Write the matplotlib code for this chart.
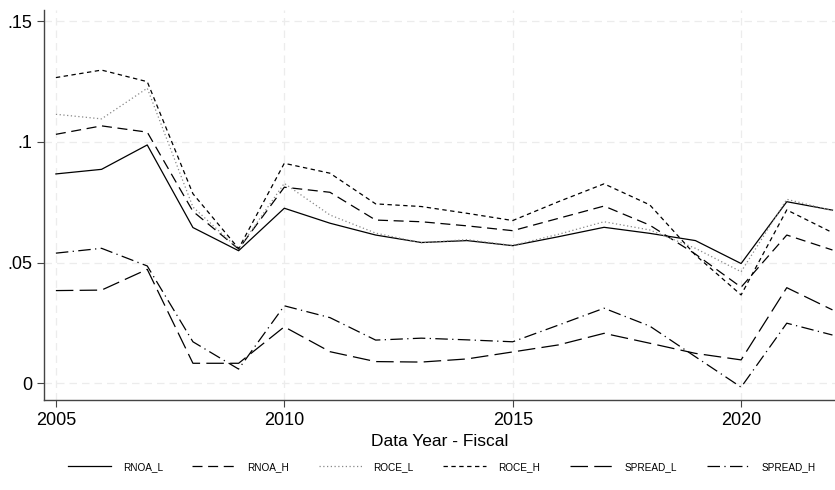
import numpy as np
import matplotlib
matplotlib.use("Agg")
import matplotlib.pyplot as plt

plt.rcParams['font.family'] = ['Liberation Sans', 'DejaVu Sans']

# fiscal years and yearly averages of each measure
years = list(range(2005, 2023))

rnoa_l = [0.0867, 0.0886, 0.0987, 0.0645, 0.0549, 0.0725, 0.0663, 0.0614, 0.0583,
          0.0591, 0.0570, 0.0607, 0.0646, 0.0621, 0.0591, 0.0496, 0.0752, 0.0717]
rnoa_h = [0.1031, 0.1066, 0.1040, 0.0712, 0.0556, 0.0812, 0.0791, 0.0676, 0.0669,
          0.0652, 0.0632, 0.0683, 0.0734, 0.0655, 0.0535, 0.0398, 0.0614, 0.0552]
roce_l = [0.1114, 0.1095, 0.1222, 0.0730, 0.0556, 0.0828, 0.0697, 0.0622, 0.0582,
          0.0595, 0.0571, 0.0617, 0.0669, 0.0635, 0.0559, 0.0462, 0.0762, 0.0715]
roce_h = [0.1266, 0.1297, 0.1249, 0.0785, 0.0558, 0.0911, 0.0870, 0.0743, 0.0732,
          0.0704, 0.0674, 0.0752, 0.0826, 0.0739, 0.0531, 0.0366, 0.0718, 0.0624]
spread_l = [0.0384, 0.0386, 0.0472, 0.0083, 0.0083, 0.0234, 0.0131, 0.0090, 0.0088,
            0.0101, 0.0130, 0.0159, 0.0207, 0.0166, 0.0124, 0.0097, 0.0396, 0.0304]
spread_h = [0.0539, 0.0559, 0.0486, 0.0172, 0.0059, 0.0321, 0.0272, 0.0179, 0.0187,
            0.0180, 0.0172, 0.0241, 0.0311, 0.0237, 0.0110, -0.0016, 0.0249, 0.0200]

yticks = [0, 0.05, 0.1, 0.15]
ytick_labels = ["0", ".05", ".1", ".15"]
xticks = [2005, 2010, 2015, 2020]

fig = plt.figure(figsize=(8.35, 4.9), dpi=100)
ax = fig.add_axes([0.0527, 0.1837, 0.947, 0.796])

lw = 0.9
ax.plot(years, rnoa_l, color="black", lw=lw, ls="-", label="RNOA_L")
ax.plot(years, rnoa_h, color="black", lw=lw, ls=(0, (8, 4.5)), label="RNOA_H")
ax.plot(years, roce_l, color="#888888", lw=lw, ls=(0, (1, 2)), label="ROCE_L")
ax.plot(years, roce_h, color="black", lw=lw, ls=(0, (3.5, 2.8)), label="ROCE_H")
ax.plot(years, spread_l, color="black", lw=lw, ls=(0, (14, 5)), label="SPREAD_L")
ax.plot(years, spread_h, color="black", lw=lw, ls=(0, (10, 3.5, 1, 3.5)), label="SPREAD_H")

ax.set_xlim(2004.74, 2022.05)
ax.set_ylim(-0.0069, 0.1546)
ax.set_xticks(xticks)
ax.set_yticks(yticks)
ax.set_yticklabels(ytick_labels)
ax.tick_params(labelsize=13, length=5, width=0.8, color="#444444")

ax.grid(True, color="#ececec", ls=(0, (6, 4)), lw=0.9)
ax.set_axisbelow(True)
for side in ["top", "right"]:
    ax.spines[side].set_visible(False)
for side in ["left", "bottom"]:
    ax.spines[side].set_color("#444444")
    ax.spines[side].set_linewidth(1.0)

ax.set_xlabel("Data Year - Fiscal", fontsize=12.5, labelpad=4)

fig.legend(loc="center", bbox_to_anchor=(0.529, 0.047), ncol=6, frameon=False,
           fontsize=7.2, handlelength=4.3, columnspacing=2.95, handletextpad=1.2)

fig.savefig("out.png", dpi=100, facecolor="white")
